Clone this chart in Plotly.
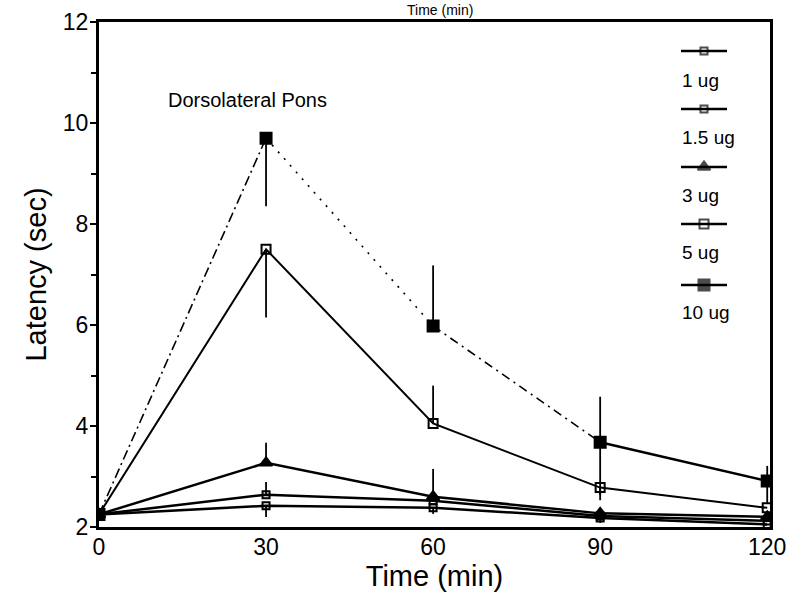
import plotly.graph_objects as go

# ---------------- data ----------------
time_min = [0, 30, 60, 90, 120]
series_names = ["1 ug", "1.5 ug", "3 ug", "5 ug", "10 ug"]
lat_1ug = [2.25, 2.42, 2.38, 2.18, 2.05]
lat_15ug = [2.25, 2.64, 2.52, 2.22, 2.12]
lat_3ug = [2.25, 3.27, 2.60, 2.27, 2.20]
lat_5ug = [2.25, 7.50, 4.05, 2.78, 2.38]
lat_10ug = [2.25, 9.70, 5.98, 3.68, 2.91]

err_up_1ug = [0, 0, 0, 0, 0]
err_dn_1ug = [0, 0.22, 0.12, 0.10, 0]
err_up_15ug = [0, 0.25, 0, 0, 0]
err_dn_15ug = [0, 0, 0, 0, 0]
err_up_3ug = [0, 0.40, 0.55, 0, 0]
err_dn_3ug = [0, 0, 0, 0, 0]
err_up_5ug = [0, 0, 0.75, 0, 0]
err_dn_5ug = [0, 1.35, 0, 0.15, 0]
err_up_10ug = [0, 0, 1.20, 0.90, 0.30]
err_dn_10ug = [0, 1.35, 0, 1.15, 0.45]

x_ticks = [0, 30, 60, 90, 120]
y_ticks = [2, 4, 6, 8, 10, 12]

# ---------------- styles ----------------
FONT = "Liberation Sans, Arial, sans-serif"
series = [
    dict(name=series_names[0], y=lat_1ug, up=err_up_1ug, dn=err_dn_1ug,
         symbol="square-open", size=7, lw=2.5, dashes=None),
    dict(name=series_names[1], y=lat_15ug, up=err_up_15ug, dn=err_dn_15ug,
         symbol="square-open", size=7, lw=2.5, dashes=None),
    dict(name=series_names[2], y=lat_3ug, up=err_up_3ug, dn=err_dn_3ug,
         symbol="triangle-up", size=11, lw=2.5, dashes=None),
    dict(name=series_names[3], y=lat_5ug, up=err_up_5ug, dn=err_dn_5ug,
         symbol="square-open", size=9, lw=2.0, dashes=None),
    dict(name=series_names[4], y=lat_10ug, up=err_up_10ug, dn=err_dn_10ug,
         symbol="square", size=11, lw=1.6,
         dashes=["10px,4px,2px,4px", "2px,7px", "9px,5px,2px,5px", "solid"]),
]

fig = go.Figure()

for s in series:
    if s["dashes"] is None:
        fig.add_trace(go.Scatter(x=time_min, y=s["y"], mode="lines",
                                 line=dict(color="black", width=s["lw"]),
                                 showlegend=False, hoverinfo="skip"))
    else:
        for i, d in enumerate(s["dashes"]):
            fig.add_trace(go.Scatter(
                x=time_min[i:i + 2], y=s["y"][i:i + 2], mode="lines",
                line=dict(color="black", width=s["lw"] if d != "solid" else 2.5, dash=d),
                showlegend=False, hoverinfo="skip"))
    fig.add_trace(go.Scatter(
        x=time_min, y=s["y"], mode="markers", name=s["name"],
        marker=dict(symbol=s["symbol"], size=s["size"], color="black",
                    line=dict(color="black", width=2)),
        error_y=dict(type="data", symmetric=False, array=s["up"],
                     arrayminus=s["dn"], color="black", thickness=1.8, width=0),
        showlegend=False))

# ---------------- custom legend (symbol above label) ----------------
leg_line_y = [51, 109, 167, 224, 285]
leg_text_y = [80, 137, 195, 252, 312]
leg_x0, leg_x1 = 681, 727
for s, ly, ty in zip(series, leg_line_y, leg_text_y):
    fig.add_trace(go.Scatter(
        x=[leg_x0, (leg_x0 + leg_x1) / 2, leg_x1], y=[ly, ly, ly],
        xaxis="x2", yaxis="y2", mode="lines+markers",
        line=dict(color="black", width=2.5),
        marker=dict(symbol=s["symbol"], size=[0, s["size"], 0], color="black",
                    line=dict(color="black", width=2)),
        showlegend=False, hoverinfo="skip"))
    fig.add_annotation(x=leg_x0 - 1, y=ty, xref="x2", yref="y2", text=s["name"],
                       showarrow=False, xanchor="left", yanchor="middle",
                       font=dict(family=FONT, size=19, color="black"))

fig.add_annotation(x=0.100, y=0.846, xref="paper", yref="paper",
                   text="Dorsolateral Pons", showarrow=False,
                   xanchor="left", yanchor="middle",
                   font=dict(family=FONT, size=20, color="black"))

# small title at the very top (cut off in the scanned original)
fig.add_annotation(x=0.508, y=1.0436, xref="paper", yref="paper",
                   text="Time (min)", showarrow=False,
                   xanchor="center", yanchor="top",
                   font=dict(family=FONT, size=14, color="black"))

fig.update_layout(
    width=788, height=602,
    margin=dict(l=99, r=18, t=22, b=75, autoexpand=False),
    paper_bgcolor="white", plot_bgcolor="white",
    font=dict(family=FONT, color="black"),
    showlegend=False,
    xaxis=dict(range=[0, 120.5], tickvals=x_ticks, ticktext=[str(v) for v in x_ticks],
               showgrid=False, zeroline=False, showline=True, mirror=True,
               linecolor="black", linewidth=2.5, ticks="", ticklabelstandoff=-2,
               tickfont=dict(size=23), automargin=False,
               title=dict(text="Time (min)", font=dict(size=29), standoff=2)),
    yaxis=dict(range=[2, 12], tickvals=y_ticks, ticktext=[str(v) for v in y_ticks],
               showgrid=False, zeroline=False, showline=True, mirror=True,
               linecolor="black", linewidth=3, ticks="outside", ticklen=6,
               tickwidth=2, tickcolor="black", automargin=False,
               ticklabelstandoff=-3,
               minor=dict(dtick=1, ticks="outside", ticklen=5, tickcolor="black", tickwidth=1.5),
               tickfont=dict(size=23),
               title=dict(text="Latency (sec)", font=dict(size=29), standoff=8)),
    xaxis2=dict(overlaying="x", range=[99, 770], visible=False),
    yaxis2=dict(overlaying="y", range=[527, 22], visible=False),
)

fig.write_html("out.html", config={"displayModeBar": False},
               post_script="document.body.style.margin='0';")
